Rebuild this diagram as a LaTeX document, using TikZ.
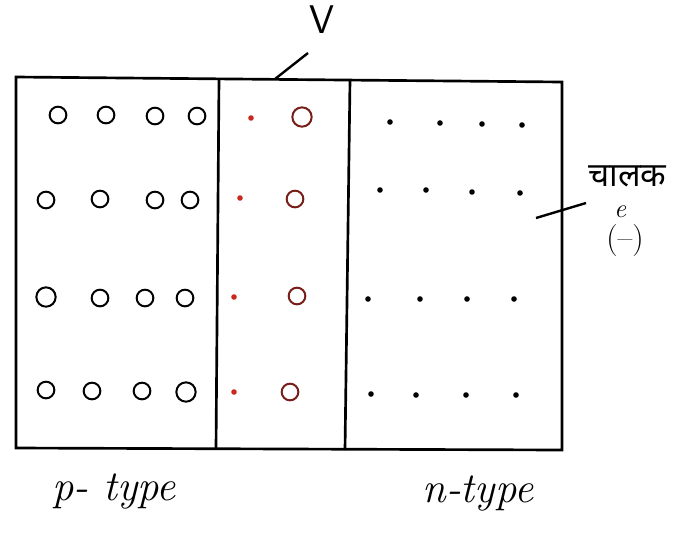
\documentclass[tikz,border=0pt]{standalone}
\usepackage{fontspec}
\newfontfamily\devfont[Script=Devanagari]{Noto Sans}
\definecolor{maroon}{RGB}{120,30,25}
\definecolor{dotred}{RGB}{200,40,30}
\begin{document}
\begin{tikzpicture}[x=0.75pt,y=-0.75pt,
  hole/.style={circle,draw=black,line width=1.5pt,minimum size=12.5pt,inner sep=0pt},
  bighole/.style={hole,minimum size=14.5pt},
  mhole/.style={hole,draw=maroon},
  elec/.style={circle,fill=black,inner sep=0pt,minimum size=4.2pt},
  relec/.style={elec,fill=dotred},
  frame/.style={line width=2pt},
  lbl/.style={inner sep=0pt,font=\fontsize{32}{34}\selectfont\itshape}]
\useasboundingbox (0,0) rectangle (674,533);
% frame
\coordinate (tl) at (16,77);
\coordinate (tr) at (562,82);
\coordinate (br) at (562,450);
\coordinate (bl) at (16,448);
\draw[frame] (tl) -- (tr) -- (br) -- (bl) -- cycle;
\coordinate (d1t) at (219,79);
\coordinate (d1b) at (216,449);
\coordinate (d2t) at (350,80);
\coordinate (d2b) at (345,450);
\draw[frame] (d1t) -- (d1b);
\draw[frame] (d2t) -- (d2b);
% row 1
\node[hole] (a1) at (58,115) {};
\node[hole] (a2) at (106,115) {};
\node[hole] (a3) at (155,116) {};
\node[hole] (a4) at (197,116) {};
\node[relec] (a5) at (251,118) {};
\node[mhole,minimum size=14.5pt] (a6) at (302,117) {};
\node[elec] (a7) at (390,122) {};
\node[elec] (a8) at (440,123) {};
\node[elec] (a9) at (482,124) {};
\node[elec] (a10) at (522,125) {};
% row 2
\node[hole] (b1) at (46,200) {};
\node[hole] (b2) at (100,199) {};
\node[hole] (b3) at (155,200) {};
\node[hole] (b4) at (190,200) {};
\node[relec] (b5) at (240,198) {};
\node[mhole] (b6) at (295,199) {};
\node[elec] (b7) at (380,190) {};
\node[elec] (b8) at (426,190) {};
\node[elec] (b9) at (472,192) {};
\node[elec] (b10) at (520,193) {};
% row 3
\node[bighole] (c1) at (46,297) {};
\node[hole] (c2) at (100,298) {};
\node[hole] (c3) at (145,298) {};
\node[hole] (c4) at (185,298) {};
\node[relec] (c5) at (234,297) {};
\node[mhole] (c6) at (297,296) {};
\node[elec] (c7) at (368,299) {};
\node[elec] (c8) at (420,299) {};
\node[elec] (c9) at (467,299) {};
\node[elec] (c10) at (514,299) {};
% row 4
\node[hole] (e1) at (46,390) {};
\node[hole] (e2) at (92,391) {};
\node[hole] (e3) at (142,391) {};
\node[bighole] (e4) at (186,392) {};
\node[relec] (e5) at (234,392) {};
\node[mhole] (e6) at (290,392) {};
\node[elec] (e7) at (371,394) {};
\node[elec] (e8) at (416,395) {};
\node[elec] (e9) at (466,395) {};
\node[elec] (e10) at (516,395) {};
% top label and pointer
\node[inner sep=0pt,font=\fontsize{30}{30}\selectfont\sffamily] (vlab) at (322,20) {V};
\coordinate (vp1) at (275,79);
\coordinate (vp2) at (308,53);
\draw[line width=1.8pt] (vp1) -- (vp2);
% right label and pointer
\node[anchor=west,inner sep=0pt,font=\devfont\fontsize{25}{27}\selectfont] (clab) at (588,176) {चालक};
\node[inner sep=0pt,font=\fontsize{20}{22}\selectfont\itshape] (elab) at (620,212) {e};
\node[inner sep=0pt,font=\fontsize{24}{26}\selectfont] (mlab) at (625,241) {(--)};
\coordinate (rp1) at (536,218);
\coordinate (rp2) at (586,203);
\draw[line width=1.8pt] (rp1) -- (rp2);
% bottom labels
\node[lbl] (plab) at (114,492) {p- type};
\node[lbl] (nlab) at (478,494) {n-type};
\end{tikzpicture}
\end{document}
